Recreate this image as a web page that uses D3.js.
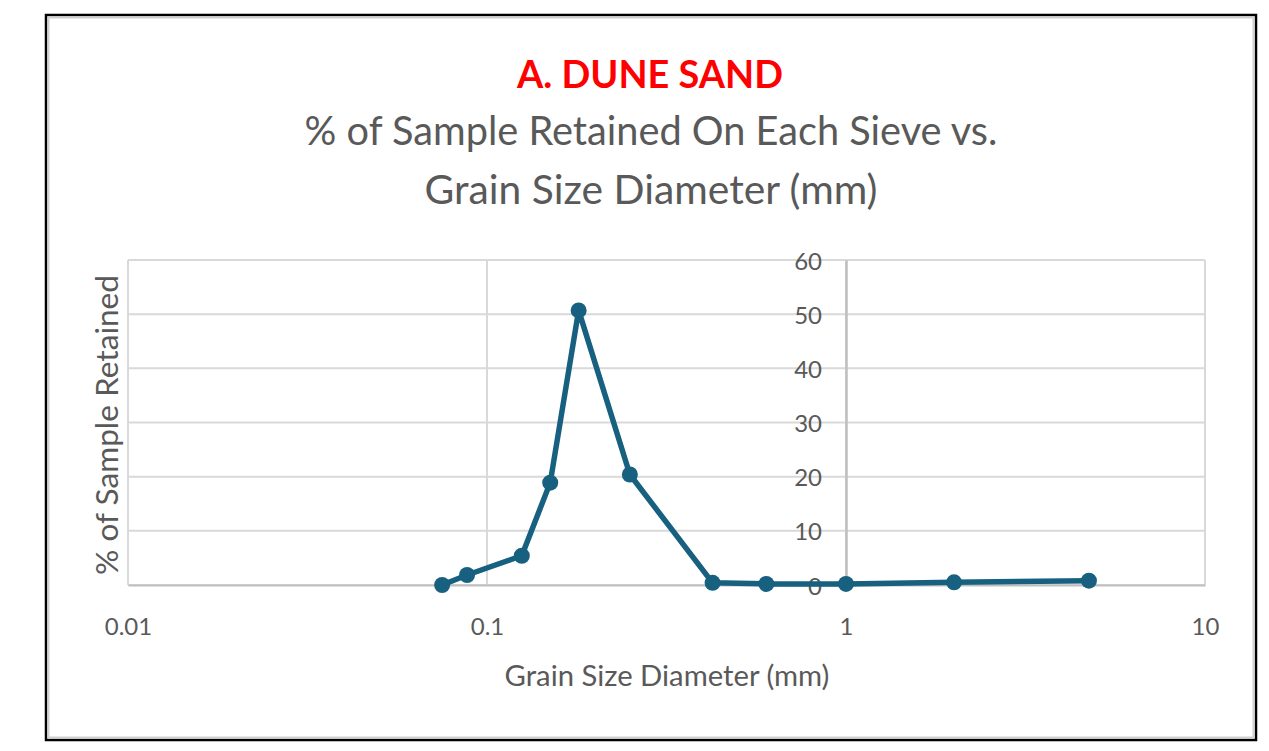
<!DOCTYPE html>
<html lang="en">
  <head>
    <style>
      body { margin: 0; background: #fff; }
      text { font-family: Lato, "Open Sans", sans-serif; }
      .grid line { stroke: #d9d9d9; stroke-width: 2; }
    </style>
    <script src="https://d3js.org/d3.v7.min.js"></script>
  </head>
  <body>
    <svg width="1269" height="751"></svg>
    <script>
      // sieve opening sizes (mm) and % retained on each sieve
      const grainSizes = [0.075, 0.088, 0.125, 0.15, 0.18, 0.25, 0.425, 0.6, 1.0, 2.0, 4.75];
      const pctRetained = [0, 1.85, 5.4, 18.9, 50.7, 20.4, 0.4, 0.2, 0.2, 0.5, 0.8];
      const xTicks = [0.01, 0.1, 1, 10];
      const xTickLabels = ["0.01", "0.1", "1", "10"];
      const yTicks = [0, 10, 20, 30, 40, 50, 60];

      const svg = d3.select("svg");
      const plotL = 128, plotR = 1205, plotT = 260, plotB = 585;

      const xScale = d3.scaleLog().domain([0.01, 10]).range([plotL, plotR]);
      const yScale = d3.scaleLinear().domain([0, 60]).range([plotB, plotT]);

      // sets font-size so the text fills the width it has in the picture
      function fit(sel, w) {
        const len = sel.node().getComputedTextLength();
        const fs = parseFloat(sel.attr("font-size"));
        sel.attr("font-size", fs * w / len);
        return sel;
      }

      // outer frame
      svg.append("rect")
        .attr("x", 46).attr("y", 15).attr("width", 1210).attr("height", 725)
        .attr("fill", "none").attr("stroke", "#000").attr("stroke-width", 2.5);
      svg.append("rect")
        .attr("x", 48.5).attr("y", 17.5).attr("width", 1205).attr("height", 720)
        .attr("fill", "none").attr("stroke", "#d0d0d0").attr("stroke-width", 2);

      // grid
      const grid = svg.append("g").attr("class", "grid");
      grid.selectAll(".h").data(yTicks).enter().append("line")
        .attr("x1", plotL).attr("x2", plotR)
        .attr("y1", d => yScale(d)).attr("y2", d => yScale(d));
      grid.selectAll(".v").data(xTicks).enter().append("line")
        .attr("y1", plotT).attr("y2", plotB)
        .attr("x1", d => xScale(d)).attr("x2", d => xScale(d));

      // x axis along y = 0
      const xAxis = svg.append("g")
        .attr("transform", "translate(0," + yScale(0) + ")")
        .call(d3.axisBottom(xScale).tickValues(xTicks).tickSize(0)
          .tickFormat((d, i) => xTickLabels[i]));
      xAxis.select(".domain").attr("stroke", "#bfbfbf").attr("stroke-width", 2);
      xAxis.selectAll("text")
        .attr("font-size", 24).attr("fill", "#595959").attr("y", 50).attr("dy", 0);

      // y axis crosses at x = 1
      const yAxis = svg.append("g")
        .attr("transform", "translate(" + xScale(1) + ",0)")
        .call(d3.axisLeft(yScale).tickValues(yTicks).tickSize(0).tickPadding(24));
      yAxis.select(".domain").attr("stroke", "#bfbfbf").attr("stroke-width", 2.5);
      yAxis.selectAll("text")
        .attr("font-size", 24).attr("fill", "#595959").attr("dy", "0.38em");

      // series
      const pts = grainSizes.map((g, i) => [g, pctRetained[i]]);
      const line = d3.line().x(d => xScale(d[0])).y(d => yScale(d[1]));
      svg.append("path")
        .datum(pts)
        .attr("d", line)
        .attr("fill", "none")
        .attr("stroke", "#17607f")
        .attr("stroke-width", 5.5)
        .attr("stroke-linejoin", "round");
      svg.selectAll(".pt").data(pts).enter().append("circle")
        .attr("cx", d => xScale(d[0]))
        .attr("cy", d => yScale(d[1]))
        .attr("r", 8)
        .attr("fill", "#17607f");

      // titles
      fit(svg.append("text")
        .attr("x", 650).attr("y", 88)
        .attr("text-anchor", "middle").attr("font-size", 36).attr("font-weight", "bold")
        .attr("fill", "#ff0000")
        .text("A. DUNE SAND"), 266);
      fit(svg.append("text")
        .attr("x", 651).attr("y", 145)
        .attr("text-anchor", "middle").attr("font-size", 34).attr("fill", "#595959")
        .text("% of Sample Retained On Each Sieve vs."), 693);
      fit(svg.append("text")
        .attr("x", 651).attr("y", 204)
        .attr("text-anchor", "middle").attr("font-size", 34).attr("fill", "#595959")
        .text("Grain Size Diameter (mm)"), 453);

      fit(svg.append("text")
        .attr("x", 667).attr("y", 686)
        .attr("text-anchor", "middle").attr("font-size", 26).attr("fill", "#595959")
        .text("Grain Size Diameter (mm)"), 325);
      fit(svg.append("text")
        .attr("transform", "translate(118,425) rotate(-90)")
        .attr("text-anchor", "middle").attr("font-size", 26).attr("fill", "#595959")
        .text("% of Sample Retained"), 300);
    </script>
  </body>
</html>
